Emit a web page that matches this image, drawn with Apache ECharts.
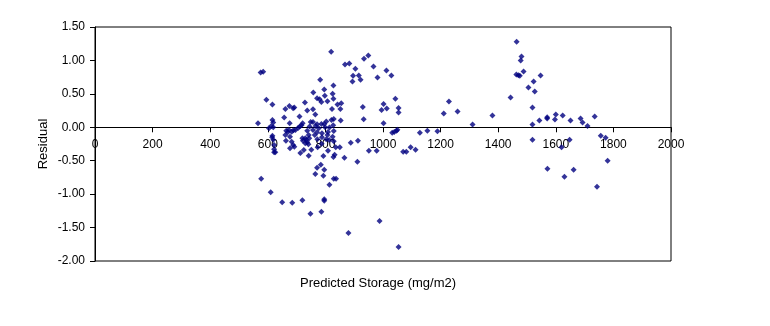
<!DOCTYPE html>
<html>
<head>
<meta charset="utf-8">
<script src="https://cdn.jsdelivr.net/npm/echarts@6/dist/echarts.min.js"></script>
<style>
  html, body { margin: 0; padding: 0; background: #fff; }
  #chart { width: 770px; height: 326px; }
</style>
</head>
<body>
<div id="chart"></div>
<script>
// Predicted storage (mg/m2) for each observation
const predictedStorage = [
  575, 584, 595, 616, 566, 577, 610, 616, 619, 612, 604, 619, 616, 615, 619, 622, 622, 622, 626,
  820, 782, 796, 828, 758, 771, 780, 786, 807, 825, 828, 798, 729, 842, 855, 852, 823, 757, 737,
  675, 661, 688, 692, 765, 657, 710,
  749, 757, 803, 821, 829, 853, 721, 676, 796, 717, 771, 786, 827, 766, 745, 711, 705, 777, 799,
  814, 696, 689, 673, 664, 683, 829, 737, 757, 670, 809, 771, 788, 661, 807, 677, 825, 788, 742,
  763, 720, 730, 744, 772, 803, 813, 734, 663, 722, 829, 683, 737, 730, 787, 741, 688, 692, 773,
  836, 850, 677, 751, 725, 809, 713, 742, 793, 832, 828, 866,
  765, 771, 784, 796, 793, 814, 829, 837, 650, 685, 720, 748, 786, 796, 796, 880, 988, 1054,
  868, 883, 904, 896, 916, 894, 922, 934, 949, 967, 981, 1012, 1029, 930, 933, 1002, 995, 1013,
  1043, 1054, 1054, 1002, 1032, 1039, 1047, 1050, 1128, 1154, 1189, 888, 913, 911, 951, 978,
  1070, 1081, 1096, 1113,
  1211, 1229, 1259, 1311, 1380, 1443, 1464, 1481, 1478, 1488, 1463, 1470, 1475, 1547, 1505,
  1523, 1527, 1519, 1519, 1519, 1543, 1570, 1570, 1597, 1600, 1624, 1651, 1686, 1693, 1710,
  1735, 1648, 1620, 1571, 1630, 1662, 1743, 1756, 1773, 1780
];

// Residual for each observation, same order as predictedStorage
const residual = [
  0.82, 0.83, 0.41, 0.34, 0.06, -0.77, -0.97, 0.11, 0.07, 0.02, -0.015, 0.00, -0.125, -0.15, -0.185, -0.265, -0.33, -0.375, -0.375,
  1.13, 0.71, 0.565, 0.625, 0.52, 0.435, 0.42, 0.38, 0.39, 0.50, 0.425, 0.47, 0.37, 0.34, 0.36, 0.275, 0.275, 0.27, 0.25,
  0.32, 0.275, 0.285, 0.295, 0.19, 0.145, 0.16,
  0.08, 0.08, 0.085, 0.11, 0.125, 0.10, 0.06, 0.06, 0.05, 0.03, 0.045, 0.05, 0.03, 0.02, 0.01, 0.01, -0.01, -0.015, 0.00,
  -0.005, -0.04, -0.045, -0.035, -0.05, -0.065, -0.055, -0.05, -0.04, -0.07, -0.07, -0.075, -0.09, -0.115, -0.115, -0.14, -0.14, -0.15, -0.115,
  -0.115, -0.165, -0.165, -0.165, -0.18, -0.18, -0.19, -0.19, -0.20, -0.20, -0.21, -0.215, -0.225, -0.24, -0.245, -0.255, -0.265, -0.29, -0.30,
  -0.30, -0.30, -0.315, -0.335, -0.34, -0.35, -0.385, -0.425, -0.43, -0.41, -0.445, -0.455,
  -0.70, -0.605, -0.56, -0.635, -0.725, -0.86, -0.77, -0.77, -1.12, -1.13, -1.09, -1.295, -1.265, -1.075, -1.10, -1.58, -1.40, -1.79,
  0.94, 0.955, 0.875, 0.77, 0.775, 0.685, 0.71, 1.025, 1.075, 0.91, 0.745, 0.85, 0.775, 0.305, 0.12, 0.35, 0.26, 0.28,
  0.425, 0.29, 0.22, 0.06, -0.08, -0.07, -0.05, -0.035, -0.08, -0.05, -0.06, -0.23, -0.20, -0.515, -0.35, -0.35,
  -0.365, -0.365, -0.30, -0.335,
  0.205, 0.385, 0.235, 0.04, 0.175, 0.445, 1.28, 1.06, 1.00, 0.835, 0.79, 0.78, 0.77, 0.775, 0.595,
  0.685, 0.535, 0.295, 0.04, -0.185, 0.10, 0.15, 0.13, 0.115, 0.19, 0.175, 0.10, 0.13, 0.07, 0.02,
  0.16, -0.185, -0.30, -0.62, -0.74, -0.635, -0.89, -0.125, -0.155, -0.50
];

// Axis ranges and titles
const xRange = [0, 2000];
const xStep = 200;
const yRange = [-2, 1.5];
const yStep = 0.5;
const xTitle = 'Predicted Storage (mg/m2)';
const yTitle = 'Residual';

const points = predictedStorage.map((x, i) => [x, residual[i]]);

const font = 'Liberation Sans, Arial, sans-serif';
const W = 770, H = 326;
const grid = { left: 95, right: 99, top: 27, bottom: 65 };
const plotH = H - grid.top - grid.bottom;
// The horizontal axis crosses at residual 0: shift it up from the plot bottom by that much
const zeroOffset = -plotH * (0 - yRange[0]) / (yRange[1] - yRange[0]);

const chart = echarts.init(document.getElementById('chart'), null, { renderer: 'canvas', width: W, height: H });

chart.setOption({
  animation: false,
  backgroundColor: '#ffffff',
  grid: Object.assign({
    containLabel: false,
    outerBoundsMode: 'none',
    show: true,
    borderColor: '#000000',
    borderWidth: 1,
    backgroundColor: 'transparent'
  }, grid),
  xAxis: [
    {
      type: 'value',
      position: 'bottom',
      offset: zeroOffset,
      min: xRange[0], max: xRange[1], interval: xStep,
      axisLine: { show: true, onZero: false, lineStyle: { color: '#000000', width: 1 } },
      axisTick: { show: true, inside: false, length: 5, lineStyle: { color: '#000000' } },
      axisLabel: {
        show: true, margin: 11, color: '#000000', fontSize: 12, fontFamily: font,
        formatter: v => String(v)
      },
      splitLine: { show: false }
    },
    {
      type: 'value',
      position: 'bottom',
      min: xRange[0], max: xRange[1],
      axisLine: { show: false, onZero: false },
      axisTick: { show: false },
      axisLabel: { show: false },
      splitLine: { show: false },
      name: xTitle,
      nameLocation: 'middle',
      nameGap: 16,
      nameMoveOverlap: false,
      nameTextStyle: { color: '#000000', fontSize: 13, fontFamily: font, padding: [0, 10, 0, 0] }
    }
  ],
  yAxis: {
    type: 'value',
    min: yRange[0], max: yRange[1], interval: yStep,
    axisLine: { show: true, onZero: false, lineStyle: { color: '#000000', width: 1 } },
    axisTick: { show: true, inside: false, length: 5, lineStyle: { color: '#000000' } },
    axisLabel: {
      margin: 10, color: '#000000', fontSize: 12, fontFamily: font,
      formatter: v => v.toFixed(2)
    },
    splitLine: { show: false },
    name: yTitle,
    nameLocation: 'middle',
    nameGap: 45,
    nameMoveOverlap: false,
    nameTextStyle: { color: '#000000', fontSize: 13, fontFamily: font }
  },
  series: [{
    type: 'scatter',
    xAxisIndex: 0,
    data: points,
    symbol: 'diamond',
    symbolSize: 6,
    itemStyle: { color: '#000080' }
  }]
});
</script>
</body>
</html>
